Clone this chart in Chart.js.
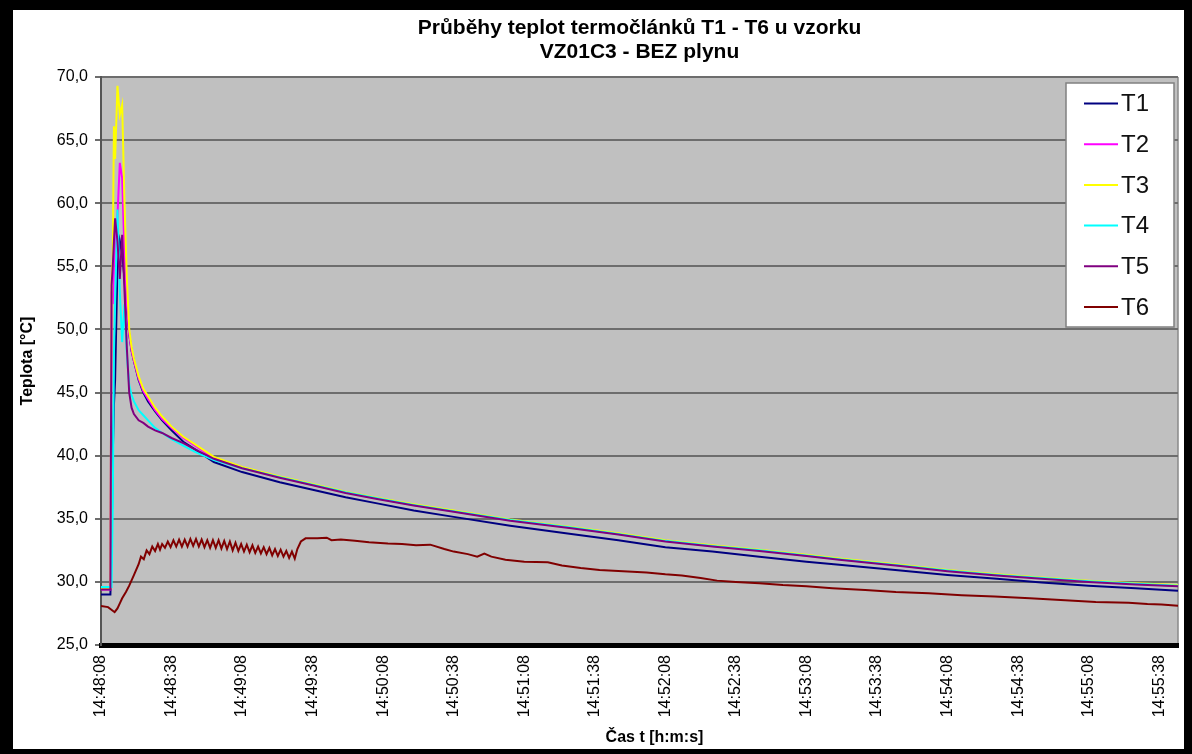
<!DOCTYPE html>
<html>
<head>
<meta charset="utf-8">
<script src="https://cdn.jsdelivr.net/npm/chart.js@4.4.0/dist/chart.umd.min.js"></script>
<style>
html,body{margin:0;padding:0;background:#000;}
#frame{position:absolute;left:13px;top:10px;width:1171px;height:739px;background:#fff;}
</style>
</head>
<body>
<div id="frame"><canvas id="chart" width="1171" height="739"></canvas></div>
<script>
// popisky osy x (po 30 s od 14:48:08)
const tickLabels=['14:48:08','14:48:38','14:49:08','14:49:38','14:50:08','14:50:38','14:51:08','14:51:38',
  '14:52:08','14:52:38','14:53:08','14:53:38','14:54:08','14:54:38','14:55:08','14:55:38'];

// cas [s] od zacatku mereni, spolecny pro T1-T5
const timeMain=[0,4,4.5,5,5.5,6,7,8,9,10,11,12,13,14,16,18,20,23,26,30,35,40,48,60,76,90,104,118,133,150,
  174,200,220,240,260,280,300,314,340,360,381,400,420,440,458];

const tempT1=[29.0,29.0,33.0,40.0,44.0,46.0,55.0,57.0,56.0,54.0,51.5,49.6,48.3,47.5,46.0,45.0,44.3,43.5,42.8,42.0,
  41.1,40.5,39.5,38.7,37.9,37.3,36.7,36.2,35.65,35.15,34.45,33.8,33.3,32.75,32.4,32.0,31.6,31.35,30.9,30.55,
  30.25,29.95,29.7,29.5,29.3];
const tempT2=[29.4,29.4,53.0,52.0,55.0,57.0,59.0,63.2,62.0,56.0,52.0,49.6,48.3,47.5,46.1,45.1,44.5,43.6,42.9,42.2,
  41.4,40.8,39.8,39.05,38.3,37.7,37.1,36.6,36.1,35.6,34.9,34.3,33.8,33.25,32.85,32.5,32.1,31.8,31.3,30.9,
  30.55,30.3,30.05,29.85,29.7];
const tempT3=[29.5,29.5,54.0,55.5,66.1,63.5,69.3,67.0,67.8,60.0,54.0,50.0,48.6,47.7,46.3,45.3,44.7,43.8,43.1,42.3,
  41.5,40.9,39.9,39.1,38.35,37.75,37.15,36.65,36.15,35.65,34.95,34.35,33.85,33.3,32.9,32.55,32.15,31.85,31.35,30.95,
  30.6,30.35,30.1,29.9,29.75];
const tempT4=[29.6,29.6,29.6,36.0,48.0,52.0,59.5,53.0,49.0,52.0,48.0,45.6,44.8,44.3,43.6,43.2,42.8,42.2,41.8,41.3,
  40.8,40.3,39.65,39.0,38.3,37.7,37.1,36.6,36.1,35.6,34.9,34.3,33.8,33.25,32.85,32.5,32.1,31.8,31.3,30.9,
  30.55,30.3,30.05,29.85,29.7];
const tempT5=[29.4,29.4,53.5,55.0,57.0,58.8,57.0,54.0,57.5,53.0,48.5,45.0,43.8,43.3,42.8,42.6,42.3,42.0,41.8,41.4,
  41.0,40.5,39.75,39.0,38.25,37.65,37.05,36.55,36.05,35.55,34.85,34.25,33.75,33.2,32.8,32.45,32.05,31.75,31.25,30.85,
  30.5,30.25,30.0,29.8,29.65];

// T6 ma vlastni casy (kmitani mezi 17 a 82 s)
const timeT6=[0,3,5.8,7,8,9,10.6,12,13.9,16,17,18.2,19.4,20.6,21.8,23,24.2,25.1,
  26,27.2,28.4,29.6,30.8,32,33.2,34.4,35.6,36.8,38,39.2,40.4,41.6,42.8,44,45.2,46.4,47.6,48.8,50,51.2,52.4,53.6,
  54.8,56,57.2,58.4,59.6,60.8,62,63.2,64.4,65.6,66.8,68,69.2,70.4,71.6,72.8,74,75.2,76.4,77.6,78.8,80,81.2,82.4,
  83.5,85,87,92,96,98,102,108,114,122,128,134,140,146,150,156,160,163,166,172,180,190,196,204,212,222,232,240,
  247,255,262,270,280,290,300,311,325,338,352,366,380,395,410,423,437,445,451,458];
const tempT6=[28.1,28.0,27.6,27.9,28.3,28.7,29.2,29.7,30.5,31.4,32.0,31.8,32.5,32.2,32.8,32.45,33.0,32.55,
  33.0,32.7,33.2,32.75,33.3,32.8,33.35,32.8,33.35,32.8,33.4,32.85,33.4,32.8,33.35,32.75,33.3,32.7,33.3,32.7,33.3,32.65,33.25,32.6,
  33.2,32.5,33.1,32.45,33.0,32.4,32.95,32.35,32.9,32.3,32.8,32.25,32.75,32.2,32.7,32.1,32.6,32.05,32.55,32.0,32.45,31.9,32.4,31.85,
  32.6,33.2,33.45,33.45,33.5,33.3,33.35,33.25,33.15,33.05,33.0,32.9,32.95,32.6,32.4,32.2,32.0,32.25,32.0,31.75,31.6,31.55,31.3,31.1,30.95,30.85,30.75,30.6,
  30.5,30.3,30.1,30.0,29.9,29.75,29.65,29.5,29.35,29.2,29.1,28.95,28.85,28.7,28.55,28.4,28.35,28.25,28.2,28.1];

const seriesNames=['T1','T2','T3','T4','T5','T6'];
const seriesColors=['#000080','#ff00ff','#ffff00','#00ffff','#800080','#800000'];
const xTitle='Čas t [h:m:s]';

const FONT='"Liberation Sans", Arial, sans-serif';
Chart.defaults.font.family=FONT;
Chart.defaults.color='#000';

function pts(times,vals){return times.map((t,i)=>({x:t,y:vals[i]}));}

const allSeries=[pts(timeMain,tempT1),pts(timeMain,tempT2),pts(timeMain,tempT3),
  pts(timeMain,tempT4),pts(timeMain,tempT5),pts(timeT6,tempT6)];

// sede pozadi grafu + prava hrana
const plotBg={
  id:'plotBg',
  beforeDraw(chart){
    const {ctx,chartArea:a}=chart;
    ctx.save();
    ctx.fillStyle='#c0c0c0';
    ctx.fillRect(a.left,a.top,a.width,a.height);
    ctx.strokeStyle='#8a8a8a';ctx.lineWidth=1.5;
    ctx.beginPath();ctx.moveTo(a.right,a.top);ctx.lineTo(a.right,a.bottom);ctx.stroke();
    ctx.restore();
  }
};

// legenda uvnitr plochy grafu (jako v Excelu) + popis osy x posunuty doprava
const boxLegend={
  id:'boxLegend',
  afterDraw(chart){
    const {ctx,chartArea:a}=chart;
    const w=108,h=244,x=a.right-4-w,y=a.top+6;
    ctx.save();
    ctx.fillStyle='#fff';ctx.fillRect(x,y,w,h);
    ctx.strokeStyle='#808080';ctx.lineWidth=1.5;ctx.strokeRect(x,y,w,h);
    ctx.font='24px '+FONT;
    ctx.textBaseline='middle';
    chart.data.datasets.forEach((ds,i)=>{
      const cy=y+20.5+i*40.7;
      ctx.strokeStyle=ds.borderColor;ctx.lineWidth=2;
      ctx.beginPath();ctx.moveTo(x+18,cy);ctx.lineTo(x+52,cy);ctx.stroke();
      ctx.fillStyle='#111';ctx.fillText(ds.label,x+55,cy+1);
    });
    ctx.font='bold 16px '+FONT;
    ctx.textAlign='center';
    ctx.fillStyle='#000';
    ctx.fillText(xTitle,(a.left+a.right)/2+15,chart.height-11.5);
    ctx.restore();
  }
};

new Chart(document.getElementById('chart'),{
  type:'line',
  data:{
    datasets:allSeries.map((d,i)=>({
      label:seriesNames[i],
      data:d,
      borderColor:seriesColors[i],
      backgroundColor:seriesColors[i],
      borderWidth:2,
      pointRadius:0,
      tension:0,
      order:6-i
    }))
  },
  options:{
    responsive:false,
    animation:false,
    devicePixelRatio:1,
    layout:{padding:{left:0,right:6,top:0,bottom:0}},
    plugins:{
      legend:{display:false},
      tooltip:{enabled:false},
      title:{
        display:true,
        fullSize:false,
        text:['Průběhy teplot termočlánků T1 - T6 u vzorku','VZ01C3 - BEZ plynu'],
        color:'#000',
        font:{size:21,weight:'bold',lineHeight:1.15},
        padding:{top:6,bottom:12.7}
      }
    },
    scales:{
      x:{
        type:'linear',min:0,max:458,
        afterFit(s){s.height=104;s.paddingLeft=0;s.paddingRight=0;},
        afterBuildTicks(s){s.ticks=tickLabels.map((_,i)=>({value:i*30}));},
        ticks:{autoSkip:false,minRotation:90,maxRotation:90,padding:10,color:'#000',font:{size:16},
          callback:(v,i)=>tickLabels[i]},
        grid:{drawOnChartArea:false,drawTicks:false},
        border:{color:'#000',width:5}
      },
      y:{
        min:25,max:70,
        afterFit(s){s.width=88;},
        ticks:{stepSize:5,padding:7,color:'#000',font:{size:16},callback:v=>v.toFixed(1).replace('.',',')},
        grid:{color:'#6d6d6d',lineWidth:2,tickLength:6},
        border:{color:'#555',width:2},
        title:{display:true,text:'Teplota [°C]',color:'#000',font:{size:16,weight:'bold'},padding:{top:5,bottom:0}}
      }
    }
  },
  plugins:[plotBg,boxLegend]
});
</script>
</body>
</html>
